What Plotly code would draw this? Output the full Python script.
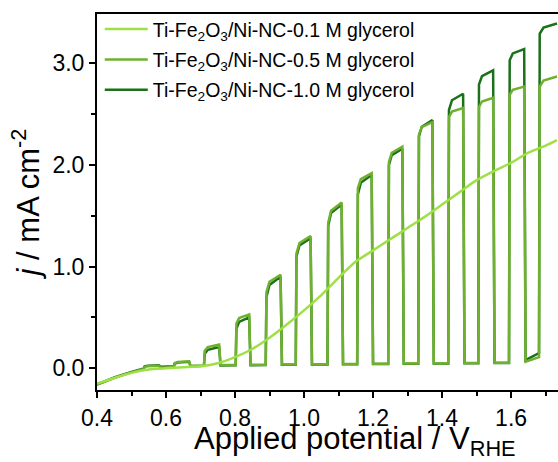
import plotly.graph_objects as go

# ---------------- data ----------------
# 0.1 M glycerol: continuous curve (potential V_RHE, current density mA cm-2)
x_01 = [0.40, 0.45, 0.50, 0.55, 0.60, 0.65, 0.70, 0.75, 0.80, 0.85, 0.90, 0.95,
        1.00, 1.05, 1.10, 1.15, 1.20, 1.25, 1.30, 1.35, 1.40, 1.45, 1.50, 1.55,
        1.60, 1.65, 1.70, 1.733]
j_01 = [-0.15, -0.095, -0.045, -0.012, 0.0, 0.01, 0.02, 0.05, 0.11, 0.19, 0.30, 0.43,
        0.57, 0.72, 0.89, 1.05, 1.16, 1.27, 1.38, 1.49, 1.61, 1.73, 1.85, 1.94,
        2.02, 2.12, 2.19, 2.245]

# chopped illumination: light-on windows
on_start = [0.536, 0.623, 0.710, 0.802, 0.889, 0.976, 1.068, 1.154, 1.244, 1.331,
            1.418, 1.505, 1.594, 1.681]
on_end = [0.580, 0.667, 0.754, 0.841, 0.932, 1.019, 1.109, 1.196, 1.285, 1.372,
          1.461, 1.548, 1.638, 1.733]

# initial dark sweep before first light pulse
x_init = [0.40, 0.45, 0.50, 0.536]
j_init_05 = [-0.16, -0.095, -0.04, -0.005]
j_init_10 = [-0.16, -0.09, -0.035, 0.0]

# photocurrent at start / end of each light-on window
top_start_05 = [0.015, 0.05, 0.17, 0.44, 0.75, 1.13, 1.43, 1.77, 2.03, 2.30, 2.47, 2.57, 2.69, 2.77]
top_end_05 = [0.025, 0.07, 0.235, 0.53, 0.92, 1.30, 1.63, 1.92, 2.18, 2.42, 2.56, 2.66, 2.77, 2.87]
top_start_10 = [0.02, 0.045, 0.14, 0.39, 0.70, 1.10, 1.40, 1.71, 2.00, 2.28, 2.54, 2.79, 3.03, 3.29]
top_end_10 = [0.03, 0.065, 0.21, 0.50, 0.90, 1.28, 1.61, 1.90, 2.16, 2.44, 2.70, 2.93, 3.14, 3.39]

# dark current at start / end of each dark window
dark_start_05 = [0.005, 0.025, 0.032, 0.035, 0.038, 0.04, 0.042, 0.045, 0.048, 0.05, 0.052, 0.055, 0.065]
dark_end_05 = [0.012, 0.028, 0.033, 0.035, 0.038, 0.04, 0.042, 0.045, 0.048, 0.05, 0.052, 0.055, 0.11]
dark_start_10 = [0.015, 0.02, 0.028, 0.03, 0.035, 0.037, 0.04, 0.042, 0.045, 0.048, 0.05, 0.053, 0.08]
dark_end_10 = [0.02, 0.025, 0.03, 0.032, 0.035, 0.037, 0.04, 0.042, 0.045, 0.048, 0.05, 0.053, 0.15]

labels = ["Ti-Fe<sub>2</sub>O<sub>3</sub>/Ni-NC-0.1 M glycerol",
          "Ti-Fe<sub>2</sub>O<sub>3</sub>/Ni-NC-0.5 M glycerol",
          "Ti-Fe<sub>2</sub>O<sub>3</sub>/Ni-NC-1.0 M glycerol"]
colors = ["#9ee046", "#6fb12e", "#1b7019"]


def chopped(j_init, ts, te, ds, de):
    xs, ys = list(x_init), list(j_init)
    n = len(on_start)
    for i in range(n):
        s, e = on_start[i], on_end[i]
        w = e - s
        xs += [s + 0.002, s + 0.25 * w, e]
        ys += [ts[i], ts[i] + 0.6 * (te[i] - ts[i]), te[i]]
        if i < n - 1:
            xs += [e + 0.004, on_start[i + 1]]
            ys += [ds[i], de[i]]
    return xs, ys


x10, y10 = chopped(j_init_10, top_start_10, top_end_10, dark_start_10, dark_end_10)
x05, y05 = chopped(j_init_05, top_start_05, top_end_05, dark_start_05, dark_end_05)

FONT = "Arial, 'Liberation Sans', sans-serif"

fig = go.Figure()
fig.add_trace(go.Scatter(x=x10, y=y10, mode="lines", name=labels[2], legendrank=3,
                         legendgroup="c", line=dict(color=colors[2], width=2.5)))
fig.add_trace(go.Scatter(x=x05, y=y05, mode="lines", name=labels[1], legendrank=2,
                         legendgroup="b", line=dict(color=colors[1], width=2.5)))
fig.add_trace(go.Scatter(x=x_01, y=j_01, mode="lines", name=labels[0], legendrank=1,
                         legendgroup="a", line=dict(color=colors[0], width=2.5, shape="spline",
                                                    smoothing=0.6)))

axis_common = dict(showline=True, linecolor="black", linewidth=2, ticks="outside",
                   ticklen=6, tickwidth=2, tickcolor="black", showgrid=False,
                   zeroline=False, tickfont=dict(family=FONT, size=23, color="black"))

fig.update_xaxes(range=[0.4, 1.736], dtick=0.2, tick0=0.4, tickformat=".1f", mirror=True,
                 minor=dict(dtick=0.1, tick0=0.4, ticks="outside", ticklen=4, tickwidth=2,
                            tickcolor="black"),
                 **axis_common)
fig.update_yaxes(range=[-0.213, 3.484], dtick=1.0, tick0=0, tickformat=".1f", mirror=False,
                 minor=dict(dtick=0.5, tick0=0, ticks="outside", ticklen=4, tickwidth=2,
                            tickcolor="black"),
                 title=dict(text="<i>j</i> / mA cm<sup>-2</sup>",
                            font=dict(family=FONT, size=31, color="black"), standoff=4),
                 **axis_common)

fig.add_annotation(text="Applied potential / V<sub>RHE</sub>", xref="paper", yref="paper",
                   x=(355 - 97) / 461, y=(390 - 463) / 376, xanchor="center", yanchor="bottom",
                   showarrow=False, font=dict(family=FONT, size=31, color="black"))

fig.update_layout(
    width=558, height=462,
    margin=dict(l=97, r=0, t=14, b=72),
    plot_bgcolor="white", paper_bgcolor="white",
    showlegend=True,
    legend=dict(x=0.006, y=1.011, xanchor="left", yanchor="top", bgcolor="rgba(0,0,0,0)",
                font=dict(family=FONT, size=19.5, color="black"), tracegroupgap=2,
                itemwidth=43),
)

fig.write_html("out.html")
